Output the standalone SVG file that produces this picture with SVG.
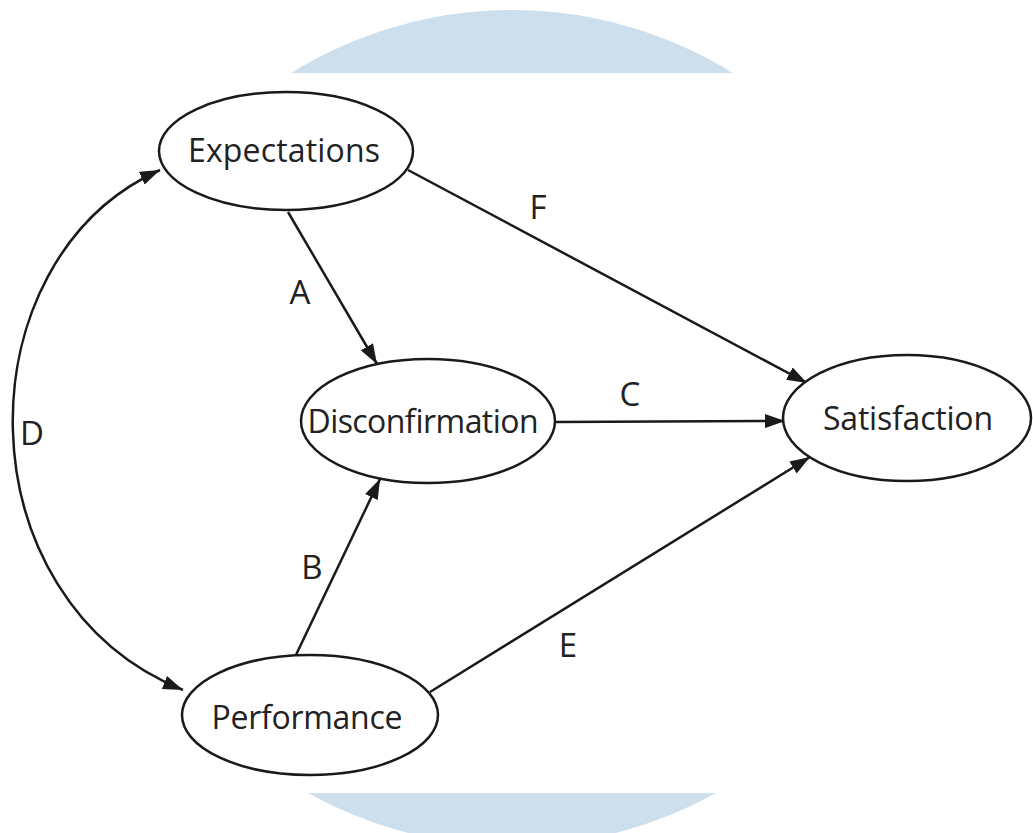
<svg xmlns="http://www.w3.org/2000/svg" width="1033" height="833" viewBox="0 0 1033 833">
<style>
.node ellipse{fill:#fff;stroke:#1a1a1a;stroke-width:2.5}
.node text{font-family:"Open Sans","Liberation Sans",sans-serif;font-size:32px;fill:#222;text-anchor:middle}
.edge{fill:none;stroke:#1a1a1a;stroke-width:2.5}
.lbl{font-family:"Open Sans","Liberation Sans",sans-serif;font-size:33px;fill:#222;text-anchor:middle}
</style>
<defs>
<marker id="ah" viewBox="0 0 20 14" refX="20" refY="7" markerWidth="20" markerHeight="14" markerUnits="userSpaceOnUse" orient="auto-start-reverse">
<path d="M0,0 L20,7 L0,14 Z" fill="#1a1a1a"/>
</marker>
<clipPath id="bandclip">
<rect x="0" y="0" width="1033" height="73"/>
<rect x="0" y="793" width="1033" height="40"/>
</clipPath>
</defs>
<rect width="1033" height="833" fill="#fff"/>
<circle cx="512" cy="428" r="418" fill="#cddeed" clip-path="url(#bandclip)"/>
<g id="connectors">
<path class="edge" d="M183,690 C-40,600 -40,260 160,170" marker-start="url(#ah)" marker-end="url(#ah)"/>
<line class="edge" x1="288" y1="212" x2="377" y2="364" marker-end="url(#ah)"/>
<line class="edge" x1="295" y1="657" x2="380" y2="479" marker-end="url(#ah)"/>
<line class="edge" x1="555" y1="422" x2="785" y2="421" marker-end="url(#ah)"/>
<line class="edge" x1="408" y1="170" x2="807" y2="383" marker-end="url(#ah)"/>
<line class="edge" x1="430" y1="692" x2="810" y2="457" marker-end="url(#ah)"/>
<text class="lbl" x="300" y="304">A</text>
<text class="lbl" x="312" y="579">B</text>
<text class="lbl" x="630" y="406">C</text>
<text class="lbl" x="32" y="445">D</text>
<text class="lbl" x="568" y="657">E</text>
<text class="lbl" x="538" y="219">F</text>
</g>
<g id="expectations" class="node">
<ellipse cx="286" cy="151" rx="127" ry="59"/>
<text x="284" y="162" textLength="192">Expectations</text>
</g>
<g id="disconfirmation" class="node">
<ellipse cx="428" cy="421" rx="127" ry="62"/>
<text x="423" y="433" textLength="231">Disconfirmation</text>
</g>
<g id="satisfaction" class="node">
<ellipse cx="907" cy="418" rx="124" ry="63"/>
<text x="908" y="430" textLength="170">Satisfaction</text>
</g>
<g id="performance" class="node">
<ellipse cx="310" cy="715" rx="128" ry="60"/>
<text x="307" y="729" textLength="191">Performance</text>
</g>
</svg>
